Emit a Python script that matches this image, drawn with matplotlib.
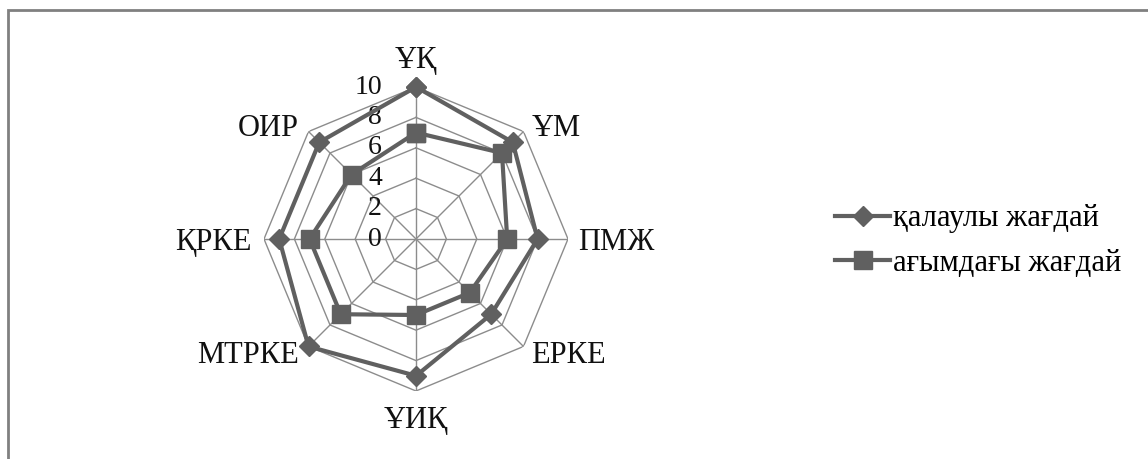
import numpy as np
import matplotlib
matplotlib.use("Agg")
import matplotlib.pyplot as plt
from matplotlib.patches import Rectangle

# categories (clockwise from top)
categories = ["ҰҚ", "ҰМ", "ПМЖ", "ЕРКЕ", "ҰИҚ", "МТРКЕ", "ҚРКЕ", "ОИР"]
desired = [10, 9, 8, 7, 9, 10, 9, 9]   # қалаулы жағдай
current = [7, 8, 6, 5, 5, 7, 7, 6]     # ағымдағы жағдай
rticks = [0, 2, 4, 6, 8, 10]

plt.rcParams['font.family'] = ['Liberation Serif', 'DejaVu Serif']

W, H = 1148, 459
fig = plt.figure(figsize=(W / 100, H / 100), dpi=100)

cx, cy, R = 416, 239, 152
ax = fig.add_axes([(cx - R) / W, (H - cy - R) / H, 2 * R / W, 2 * R / H], projection='polar')
ax.set_theta_zero_location('N')
ax.set_theta_direction(-1)
ax.set_ylim(0, 10)
ax.grid(False)
ax.spines['polar'].set_visible(False)
ax.set_xticks([])
ax.set_yticks([])
ax.patch.set_alpha(0)

n = len(categories)
theta = np.arange(n) * 2 * np.pi / n
tclosed = np.append(theta, theta[0])

# polygon gridlines and spokes
gridc = '#8c8c8c'
for r in rticks[1:]:
    ax.plot(tclosed, [r] * (n + 1), color=gridc, lw=1.0, zorder=1)
for t in theta:
    ax.plot([t, t], [0, 10], color=gridc, lw=1.0, zorder=1)

# radial labels, left of the vertical axis
for r in rticks:
    ax.annotate(str(r), xy=(0, r), xytext=(-34, 0), textcoords='offset pixels',
                ha='right', va='center', fontsize=20, color='#111111', zorder=2)

# category labels (pixel offsets from the outer vertex, baseline aligned)
offsets = [(0, 19, 'center'), (8, -4, 'left'), (10, -11, 'left'), (8, -17, 'left'),
           (0, -37, 'center'), (-10, -17, 'right'), (-12, -11, 'right'), (-10, -4, 'right')]
for i, lab in enumerate(categories):
    dx, dy, ha = offsets[i]
    ax.annotate(lab, xy=(theta[i], 10), xytext=(dx, dy), textcoords='offset pixels',
                ha=ha, va='baseline', fontsize=22, color='#111111', annotation_clip=False)

col = '#606060'
ax.plot(tclosed, desired + desired[:1], color=col, lw=3, marker='D', ms=10,
        label='қалаулы жағдай', zorder=4, clip_on=False)
ax.plot(tclosed, current + current[:1], color=col, lw=3, marker='s', ms=13,
        label='ағымдағы жағдай', zorder=3, clip_on=False)

fig.legend(loc='center left', bbox_to_anchor=(835 / W, 1 - 241 / H), frameon=False,
           fontsize=22, handlelength=1.8, handletextpad=0.1, labelspacing=0.5,
           borderpad=0, borderaxespad=0)

# outer frame (only top and left visible)
fig.patches.append(Rectangle((8 / W, -0.2), 1.5, (H - 10) / H + 0.2, transform=fig.transFigure,
                             fill=False, ec='#808080', lw=2))

fig.savefig('out.png', dpi=100)
